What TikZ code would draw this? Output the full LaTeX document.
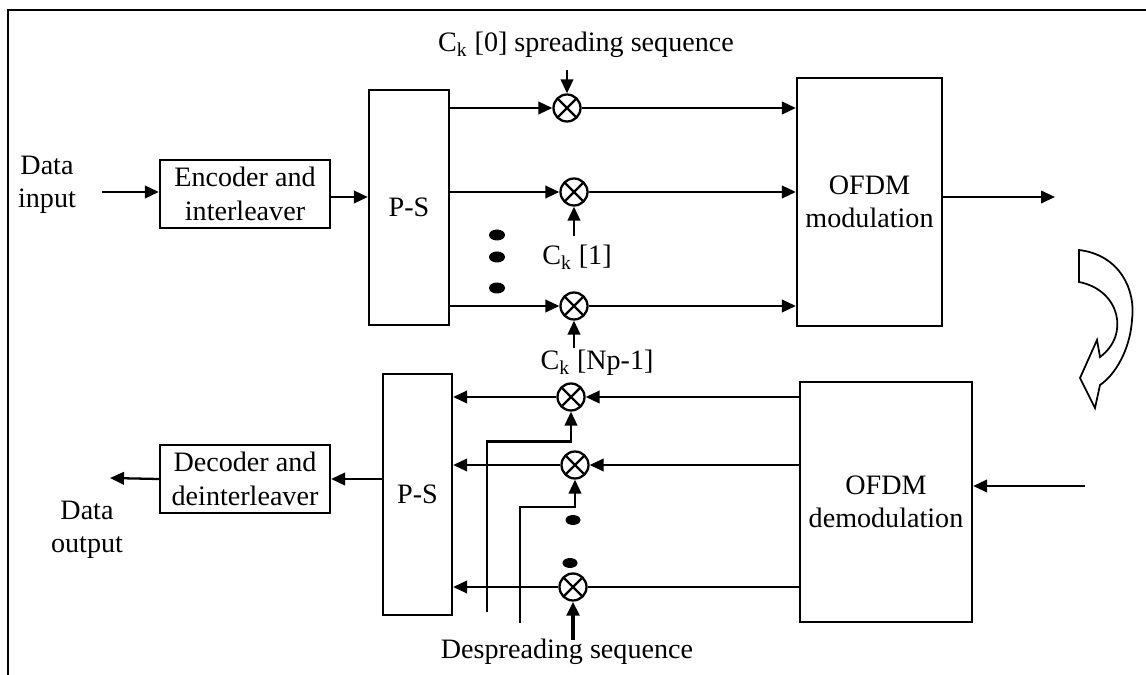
\documentclass[tikz,border=0pt]{standalone}
\usepackage{fontspec}
\setmainfont{Liberation Serif}
\usetikzlibrary{arrows.meta,positioning}

\begin{document}
\begin{tikzpicture}[x=0.02cm, y=-0.02cm, line width=1.3pt, box/.style={draw, align=center, inner sep=1pt, font=\fontsize{16}{19}\selectfont}, lbl/.style={align=center, inner sep=0pt, font=\fontsize{16}{19}\selectfont}, mult/.style={draw, circle, minimum size=0.54cm, inner sep=0pt, path picture={\draw ([shift={(-0.4cm,-0.4cm)}]path picture bounding box.center) -- ([shift={(0.4cm,0.4cm)}]path picture bounding box.center); \draw ([shift={(-0.4cm,0.4cm)}]path picture bounding box.center) -- ([shift={(0.4cm,-0.4cm)}]path picture bounding box.center);}}, arr/.style={-{Triangle[length=0.28cm,width=0.25cm]}}]
\useasboundingbox (0,0) rectangle (1146,675);
\draw[line width=1.6pt] (8,675) -- (8,10) -- (1146,10);
% transmitter
\node[lbl] (din) at (47,185) {Data\\input};
\coordinate (dinend) at (102,192);
\node[box, minimum width=3.4cm, minimum height=1.36cm] (enc) at (245,194) {Encoder and\\interleaver};
\node[box, minimum width=1.6cm, minimum height=4.7cm] (psup) at (409,207.5) {P-S};
\node[box, minimum width=2.9cm, minimum height=4.96cm] (mod) at (869.5,202) {OFDM\\modulation};
\coordinate (out) at (1055,197);
\node[mult] (mu0) at (567,108) {};
\node[mult] (mu1) at (574,192) {};
\node[mult] (mu2) at (574,306) {};
\node[lbl] (c0) at (586,45) {C\textsubscript{k} [0] spreading sequence};
\node[lbl] (c1) at (577,257) {C\textsubscript{k} [1]};
\node[lbl] (c2) at (597,363) {C\textsubscript{k} [Np-1]};
\coordinate (c0end) at (567,70);
\coordinate (c1end) at (574,236);
\coordinate (c2end) at (574,348);
\fill (497,235) ellipse [x radius=0.16cm, y radius=0.11cm];
\fill (497,257) ellipse [x radius=0.16cm, y radius=0.11cm];
\fill (497,288) ellipse [x radius=0.16cm, y radius=0.11cm];
\draw[arr] (dinend) -- (enc.west |- dinend);
\draw[arr] (enc.east |- 0,197) -- (psup.west |- 0,197);
\foreach \m in {mu0,mu1,mu2} {
  \draw[arr] (psup.east |- \m) -- (\m);
  \draw[arr] (\m) -- (mod.west |- \m);
}
\draw[arr] (c0end) -- (mu0.north);
\draw[arr] (c1end) -- (mu1.south);
\draw[arr] (c2end) -- (mu2.south);
\draw[arr] (mod.east |- out) -- (out);
% channel
\draw[line width=1pt] (1079,250) .. controls (1120,255) and (1136,290) .. (1132,320) .. controls (1130,350) and (1115,375) .. (1100,385) -- (1095,408) -- (1080,378) -- (1097,340) -- (1100,357) .. controls (1130,335) and (1120,290) .. (1079,282) -- cycle;
% receiver
\node[box, minimum width=3.44cm, minimum height=4.8cm] (demod) at (886,502) {OFDM\\demodulation};
\coordinate (in) at (1085,486);
\node[box, minimum width=1.38cm, minimum height=4.82cm] (pslo) at (417.5,494.5) {P-S};
\node[box, minimum width=3.4cm, minimum height=1.36cm] (dec) at (245,479) {Decoder and\\deinterleaver};
\node[lbl] (dout) at (87,530) {Data\\output};
\coordinate (doutend) at (110,478);
\node[mult] (md0) at (571,397) {};
\node[mult] (md1) at (575,465) {};
\node[mult] (md2) at (573,587) {};
\node[lbl] (desp) at (567,652) {Despreading sequence};
\coordinate (ds0) at (487,612);
\coordinate (ds1) at (520,623);
\coordinate (ds2) at (573,640);
\fill (573,520) ellipse [x radius=0.15cm, y radius=0.1cm];
\fill (570,563) ellipse [x radius=0.15cm, y radius=0.1cm];
\draw[arr] (in) -- (in -| demod.east);
\draw[arr] (demod.west |- md0) -- (md0);
\draw[arr] (demod.west |- md1) -- (md1);
\draw (demod.west |- md2) -- (md2);
\foreach \m in {md0,md1,md2} {
  \draw[arr] (\m) -- (pslo.east |- \m);
}
\draw[arr] (ds0) |- ([yshift=-0.6cm]md0.south) -- (md0.south);
\draw[arr] (ds1) |- ([yshift=-0.55cm]md1.south) -- (md1.south);
\draw[arr, line width=2pt] (ds2) -- (md2.south);
\draw[arr] (pslo.west |- dec.east) -- (dec.east);
\draw[arr] (dec.west) -- (doutend);
\end{tikzpicture}
\end{document}
